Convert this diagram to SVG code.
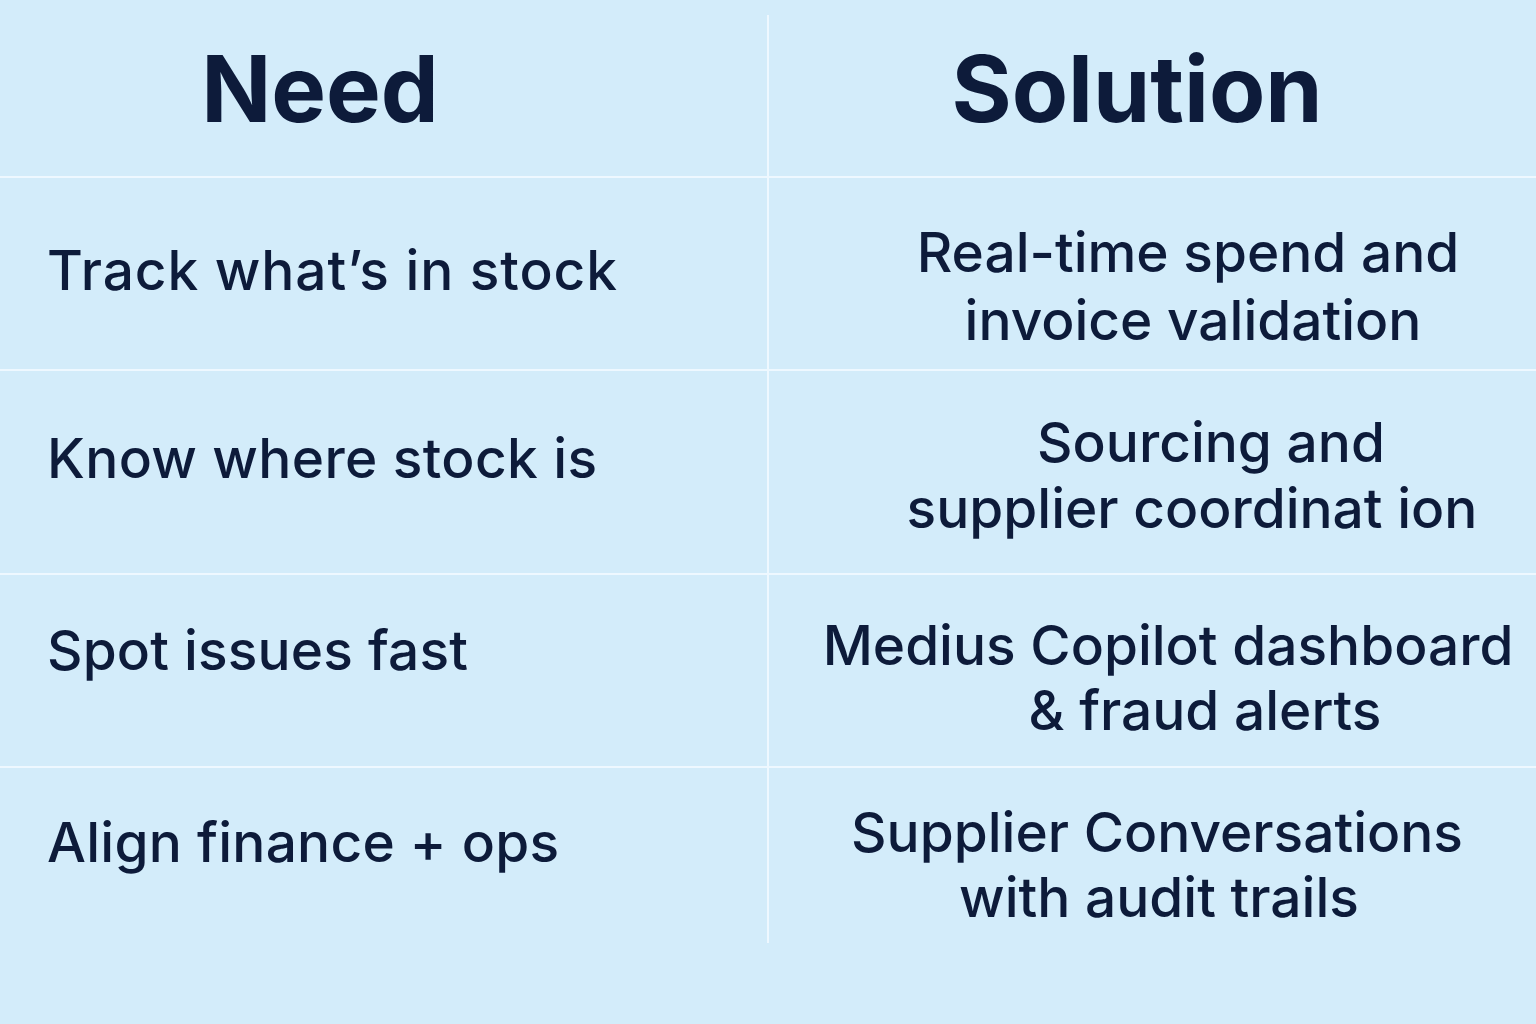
<svg xmlns="http://www.w3.org/2000/svg" width="1536" height="1024" viewBox="0 0 1536 1024">
<style>
.h{font-family:Inter,"Noto Sans",sans-serif;font-weight:700;font-size:92px;fill:#0d1b3a;text-anchor:middle}
.t{font-family:Inter,"Noto Sans",sans-serif;font-weight:500;font-size:55px;fill:#0d1b3a}
.c{text-anchor:middle}
.ln{stroke:#eef8ff;stroke-width:2}
</style>
<rect width="1536" height="1024" fill="#d3ecfa"/>
<g id="grid">
<line class="ln" x1="768" y1="15" x2="768" y2="943"/>
<line class="ln" x1="0" y1="177" x2="1536" y2="177"/>
<line class="ln" x1="0" y1="370" x2="1536" y2="370"/>
<line class="ln" x1="0" y1="574" x2="1536" y2="574"/>
<line class="ln" x1="0" y1="767" x2="1536" y2="767"/>
</g>
<g id="header">
<text class="h" x="320" y="122">Need</text>
<text class="h" x="1137" y="122">Solution</text>
</g>
<g id="row1">
<text class="t" x="47" y="290" textLength="570">Track what’s in stock</text>
<text class="t c" x="1188" y="272">Real-time spend and</text>
<text class="t c" x="1193" y="340">invoice validation</text>
</g>
<g id="row2">
<text class="t" x="47" y="478" textLength="550">Know where stock is</text>
<text class="t c" x="1211" y="462">Sourcing and</text>
<text class="t c" x="1192" y="528">supplier coordinat ion</text>
</g>
<g id="row3">
<text class="t" x="47" y="670" textLength="421">Spot issues fast</text>
<text class="t c" x="1168" y="665">Medius Copilot dashboard</text>
<text class="t c" x="1205" y="730">&amp; fraud alerts</text>
</g>
<g id="row4">
<text class="t" x="47" y="862" textLength="512">Align finance + ops</text>
<text class="t c" x="1157" y="852">Supplier Conversations</text>
<text class="t c" x="1159" y="917">with audit trails</text>
</g>
</svg>
